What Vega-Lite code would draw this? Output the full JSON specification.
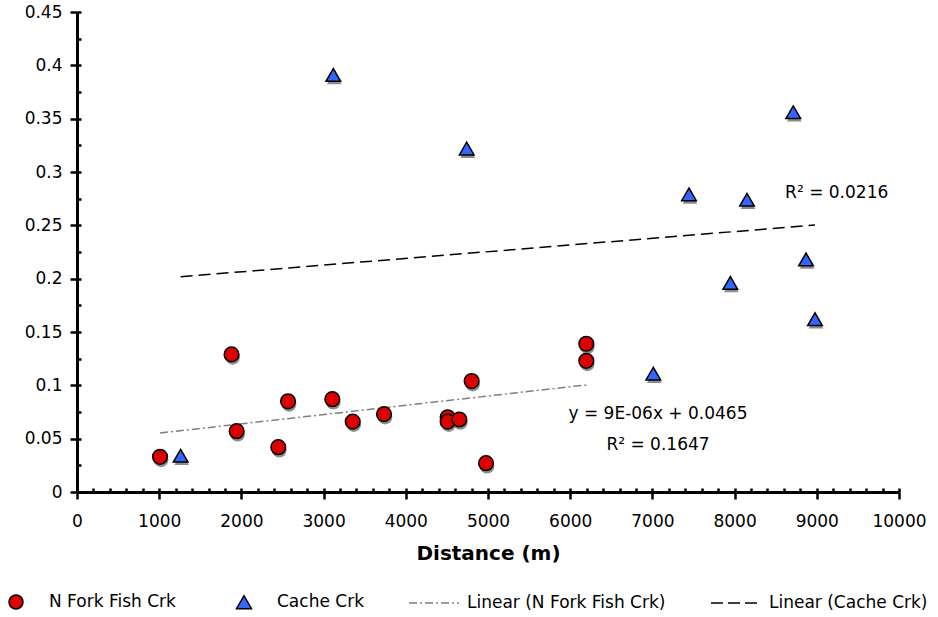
{
  "$schema": "https://vega.github.io/schema/vega-lite/v6.json",
  "width": 822,
  "height": 480,
  "autosize": {"type": "none"},
  "padding": {"left": 77, "top": 12, "right": 39, "bottom": 125},
  "background": "white",
  "config": {
    "view": {"stroke": null},
    "font": "DejaVu Sans",
    "axis": {"grid": false, "labelFont": "DejaVu Sans", "titleFont": "DejaVu Sans", "labelColor": "black", "titleColor": "black", "tickColor": "black", "domainColor": "black"}
  },
  "datasets": {
    "points": [
      {"series": "N Fork Fish Crk", "distance": 1010, "value": 0.033},
      {"series": "N Fork Fish Crk", "distance": 1880, "value": 0.129},
      {"series": "N Fork Fish Crk", "distance": 1942, "value": 0.057},
      {"series": "N Fork Fish Crk", "distance": 2449, "value": 0.042},
      {"series": "N Fork Fish Crk", "distance": 2567, "value": 0.085},
      {"series": "N Fork Fish Crk", "distance": 3106, "value": 0.087},
      {"series": "N Fork Fish Crk", "distance": 3354, "value": 0.066},
      {"series": "N Fork Fish Crk", "distance": 3735, "value": 0.073},
      {"series": "N Fork Fish Crk", "distance": 4509, "value": 0.070},
      {"series": "N Fork Fish Crk", "distance": 4509, "value": 0.066},
      {"series": "N Fork Fish Crk", "distance": 4651, "value": 0.068},
      {"series": "N Fork Fish Crk", "distance": 4801, "value": 0.104},
      {"series": "N Fork Fish Crk", "distance": 4976, "value": 0.027},
      {"series": "N Fork Fish Crk", "distance": 6196, "value": 0.139},
      {"series": "N Fork Fish Crk", "distance": 6196, "value": 0.123},
      {"series": "Cache Crk", "distance": 1261, "value": 0.034},
      {"series": "Cache Crk", "distance": 3118, "value": 0.391},
      {"series": "Cache Crk", "distance": 4741, "value": 0.322},
      {"series": "Cache Crk", "distance": 7011, "value": 0.111},
      {"series": "Cache Crk", "distance": 7445, "value": 0.279},
      {"series": "Cache Crk", "distance": 7948, "value": 0.196},
      {"series": "Cache Crk", "distance": 8151, "value": 0.274},
      {"series": "Cache Crk", "distance": 8714, "value": 0.356},
      {"series": "Cache Crk", "distance": 8869, "value": 0.218},
      {"series": "Cache Crk", "distance": 8978, "value": 0.162}
    ],
    "trend": [
      {"series": "Linear (N Fork Fish Crk)", "distance": 1010, "value": 0.0553},
      {"series": "Linear (N Fork Fish Crk)", "distance": 6196, "value": 0.1004},
      {"series": "Linear (Cache Crk)", "distance": 1261, "value": 0.2018},
      {"series": "Linear (Cache Crk)", "distance": 8978, "value": 0.2503}
    ],
    "notes": [
      {"distance": 7068, "value": 0.0727, "label": "y = 9E-06x + 0.0465"},
      {"distance": 7068, "value": 0.0441, "label": "R² = 0.1647"},
      {"distance": 9242, "value": 0.28, "label": "R² = 0.0216"}
    ]
  },
  "layer": [
    {
      "data": {"name": "points"},
      "mark": {"type": "point", "filled": true, "size": 215, "xOffset": 1, "yOffset": 3, "color": "#8c8c8c", "opacity": 1},
      "encoding": {
        "x": {
          "field": "distance", "type": "quantitative",
          "scale": {"domain": [0, 10000], "nice": false, "zero": true},
          "axis": {"orient": "bottom", "values": [0,200,400,600,800,1000,1200,1400,1600,1800,2000,2200,2400,2600,2800,3000,3200,3400,3600,3800,4000,4200,4400,4600,4800,5000,5200,5400,5600,5800,6000,6200,6400,6600,6800,7000,7200,7400,7600,7800,8000,8200,8400,8600,8800,9000,9200,9400,9600,9800,10000], "tickSize": -4, "tickWidth": 2.5, "labels": false, "domain": false, "title": null}
        },
        "y": {
          "field": "value", "type": "quantitative",
          "scale": {"domain": [0, 0.45], "nice": false},
          "axis": {"orient": "left", "values": [0,0.025,0.05,0.075,0.1,0.125,0.15,0.175,0.2,0.225,0.25,0.275,0.3,0.325,0.35,0.375,0.4,0.425,0.45], "tickSize": -4, "tickWidth": 2.5, "labels": false, "domain": false, "title": null}
        },
        "shape": {"field": "series", "type": "nominal", "scale": {"domain": ["N Fork Fish Crk", "Cache Crk"], "range": ["circle", "triangle-up"]}, "legend": null}
      }
    },
    {
      "data": {"name": "trend"},
      "transform": [{"filter": "datum.series === 'Linear (N Fork Fish Crk)'"}],
      "mark": {"type": "line", "color": "#808080", "strokeWidth": 1.5, "strokeDash": [8, 3, 2, 3]},
      "encoding": {
        "x": {"field": "distance", "type": "quantitative", "axis": null},
        "y": {"field": "value", "type": "quantitative", "axis": null}
      }
    },
    {
      "data": {"name": "trend"},
      "transform": [{"filter": "datum.series === 'Linear (Cache Crk)'"}],
      "mark": {"type": "line", "color": "black", "strokeWidth": 1.5, "strokeDash": [12, 6]},
      "encoding": {
        "x": {"field": "distance", "type": "quantitative", "axis": null},
        "y": {"field": "value", "type": "quantitative", "axis": null}
      }
    },
    {
      "data": {"name": "points"},
      "mark": {"type": "point", "filled": true, "size": 215, "stroke": "black", "strokeWidth": 1.5, "opacity": 1},
      "encoding": {
        "x": {
          "field": "distance", "type": "quantitative",
          "axis": {"orient": "bottom", "values": [0,1000,2000,3000,4000,5000,6000,7000,8000,9000,10000], "format": "d", "tickSize": 7, "tickWidth": 2.5, "domainWidth": 3, "labelFontSize": 17, "labelPadding": 14, "labelFlush": false, "labelOverlap": false, "title": "Distance (m)", "titleFontSize": 20, "titleFontWeight": "bold", "titlePadding": 14}
        },
        "y": {
          "field": "value", "type": "quantitative",
          "axis": {"orient": "left", "values": [0,0.05,0.1,0.15,0.2,0.25,0.3,0.35,0.4,0.45], "format": "~g", "tickSize": 7, "tickWidth": 2.5, "domainWidth": 3, "labelFontSize": 17, "labelPadding": 8, "labelFlush": false, "labelOverlap": false, "title": null}
        },
        "shape": {"field": "series", "type": "nominal", "legend": null},
        "fill": {
          "field": "series", "type": "nominal",
          "scale": {"domain": ["N Fork Fish Crk", "Cache Crk", "Linear (N Fork Fish Crk)", "Linear (Cache Crk)"], "range": ["#dd0000", "#3366ff", "#808080", "#000000"]},
          "legend": {
            "title": null, "orient": "none", "legendX": -87, "legendY": 564,
            "direction": "horizontal", "columns": 4, "columnPadding": 42,
            "symbolSize": 2500, "labelOffset": 7, "labelFontSize": 17, "labelFont": "DejaVu Sans", "labelColor": "black", "labelLimit": 400,
            "symbolOpacity": 1, "symbolStrokeWidth": 1.5,
            "symbolType": {"expr": "indexof(datum.value, 'Linear') === 0 ? 'M-1,0H1' : (datum.value === 'Cache Crk' ? 'M0,-0.26L0.3,0.26L-0.3,0.26Z' : 'M-0.28,0A0.28,0.28 0 1,0 0.28,0A0.28,0.28 0 1,0 -0.28,0Z')"},
            "symbolStrokeColor": {"expr": "datum.value === 'Linear (N Fork Fish Crk)' ? '#808080' : 'black'"},
            "symbolDash": {"expr": "datum.value === 'Linear (Cache Crk)' ? [12, 5] : (datum.value === 'Linear (N Fork Fish Crk)' ? [8, 3, 2, 3] : [])"}
          }
        }
      }
    },
    {
      "data": {"name": "notes"},
      "mark": {"type": "text", "fontSize": 17, "font": "DejaVu Sans", "align": "center", "baseline": "middle", "color": "black"},
      "encoding": {
        "x": {"field": "distance", "type": "quantitative", "axis": null},
        "y": {"field": "value", "type": "quantitative", "axis": null},
        "text": {"field": "label"}
      }
    }
  ],
  "resolve": {"axis": {"x": "independent", "y": "independent"}}
}
